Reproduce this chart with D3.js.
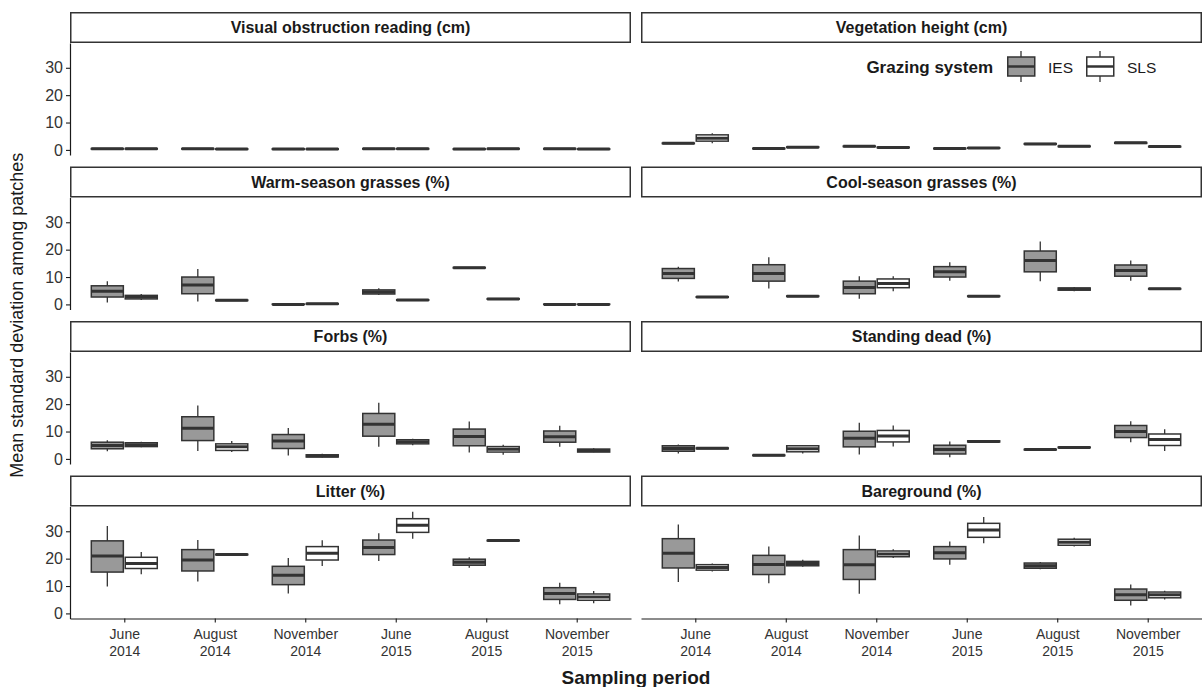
<!DOCTYPE html>
<html>
<head>
<meta charset="utf-8">
<script src="https://cdn.jsdelivr.net/npm/d3@7"></script>
<style>
  body { margin: 0; background: #fff; }
  svg { font-family: "Liberation Sans", Arial, sans-serif; }
</style>
</head>
<body>
<svg id="chart" width="1202" height="687"></svg>
<script>
const periods = ["June 2014", "August 2014", "November 2014", "June 2015", "August 2015", "November 2015"];
const groups = ["IES", "SLS"];
const yTicks = [0, 10, 20, 30];

// each box: [lower whisker, q1, median, q3, upper whisker]
const visualIES = [[0.2, 0.3, 0.4, 0.5, 0.6], [0.2, 0.3, 0.4, 0.5, 0.6], [0.1, 0.2, 0.3, 0.4, 0.5], [0.2, 0.3, 0.4, 0.5, 0.6], [0.1, 0.2, 0.3, 0.4, 0.5], [0.2, 0.3, 0.4, 0.5, 0.6]];
const visualSLS = [[0.2, 0.3, 0.4, 0.5, 0.6], [0.1, 0.2, 0.3, 0.4, 0.5], [0.1, 0.2, 0.3, 0.4, 0.5], [0.2, 0.3, 0.4, 0.5, 0.6], [0.2, 0.3, 0.4, 0.5, 0.6], [0.1, 0.2, 0.3, 0.4, 0.5]];
const heightIES = [[2.2, 2.3, 2.4, 2.5, 2.6], [0.3, 0.4, 0.5, 0.6, 0.7], [1.1, 1.2, 1.3, 1.4, 1.5], [0.3, 0.4, 0.5, 0.6, 0.7], [2.0, 2.1, 2.2, 2.3, 2.4], [2.3, 2.4, 2.6, 2.7, 2.9]];
const heightSLS = [[2.4, 3.2, 4.3, 5.5, 6.1], [0.8, 0.9, 1.0, 1.1, 1.2], [0.7, 0.8, 0.9, 1.0, 1.1], [0.5, 0.6, 0.7, 0.8, 0.9], [1.1, 1.2, 1.3, 1.4, 1.5], [1.0, 1.1, 1.2, 1.3, 1.4]];
const warmIES = [[0.7, 2.7, 4.8, 6.8, 8.5], [1.1, 3.9, 7.1, 10.0, 12.9], [0, 0, 0, 0.1, 0.1], [3.4, 3.8, 4.5, 5.3, 5.9], [13.2, 13.3, 13.4, 13.5, 13.6], [0, 0, 0, 0.1, 0.1]];
const warmSLS = [[1.6, 2.0, 2.7, 3.3, 3.8], [1.3, 1.4, 1.5, 1.6, 1.7], [0.1, 0.1, 0.2, 0.3, 0.3], [1.4, 1.5, 1.6, 1.7, 1.8], [1.8, 1.9, 2.0, 2.1, 2.2], [0, 0, 0, 0.1, 0.1]];
const coolIES = [[8.4, 9.5, 11.3, 13.1, 13.8], [5.8, 8.5, 11.3, 14.5, 17.2], [2.1, 3.9, 6.2, 8.5, 10.3], [8.6, 10.0, 11.9, 13.8, 15.4], [8.5, 11.9, 16.0, 19.5, 23.0], [8.6, 10.3, 12.4, 14.4, 16.0]];
const coolSLS = [[2.5, 2.6, 2.7, 2.8, 2.9], [2.8, 2.9, 3.0, 3.1, 3.2], [4.8, 6.1, 7.6, 9.3, 10.3], [2.8, 2.9, 3.0, 3.1, 3.2], [4.8, 5.2, 5.6, 6.0, 6.4], [5.5, 5.6, 5.7, 5.8, 5.9]];
const forbsIES = [[2.8, 3.7, 4.9, 6.1, 6.8], [2.9, 6.7, 11.2, 15.4, 19.5], [1.2, 3.8, 6.5, 8.9, 11.3], [4.4, 8.3, 12.7, 16.6, 20.5], [2.3, 4.8, 8.2, 10.9, 13.7], [4.4, 6.1, 8.1, 10.2, 12.1]];
const forbsSLS = [[4.3, 4.5, 5.2, 5.9, 6.3], [2.5, 3.1, 4.4, 5.5, 6.5], [0.5, 0.7, 1.1, 1.5, 1.9], [5.0, 5.5, 6.3, 7.0, 7.4], [1.5, 2.5, 3.5, 4.5, 5.2], [2.4, 2.5, 3.1, 3.6, 3.9]];
const deadIES = [[2.0, 2.8, 3.8, 4.8, 5.3], [1.1, 1.2, 1.3, 1.4, 1.5], [1.6, 4.4, 7.5, 10.1, 13.2], [0.6, 1.8, 3.4, 5.0, 6.4], [3.2, 3.3, 3.4, 3.5, 3.6], [6.1, 7.8, 10.0, 12.2, 13.8]];
const deadSLS = [[3.6, 3.7, 3.9, 4.0, 4.1], [2.0, 2.6, 3.7, 4.8, 5.1], [4.5, 6.2, 8.4, 10.4, 12.2], [6.1, 6.2, 6.4, 6.6, 6.7], [4.0, 4.1, 4.2, 4.3, 4.4], [2.9, 4.9, 7.1, 9.1, 10.8]];
const litterIES = [[9.8, 15.1, 21.0, 26.5, 31.9], [11.7, 15.5, 19.5, 23.3, 26.8], [7.3, 10.5, 13.9, 17.2, 20.2], [19.1, 21.5, 24.1, 26.8, 29.3], [16.7, 17.6, 18.7, 19.8, 20.5], [3.3, 5.1, 7.3, 9.4, 11.2]];
const litterSLS = [[14.3, 16.4, 18.2, 20.5, 22.4], [21.3, 21.4, 21.5, 21.6, 21.7], [17.3, 19.5, 22.0, 24.4, 26.7], [27.3, 29.6, 32.2, 34.6, 37.1], [26.4, 26.5, 26.6, 26.7, 26.8], [3.7, 4.8, 6.0, 7.1, 8.2]];
const bareIES = [[11.5, 16.6, 22.0, 27.3, 32.5], [11.0, 14.2, 17.9, 21.2, 24.4], [7.2, 12.4, 17.8, 23.3, 28.5], [17.8, 19.9, 22.2, 24.4, 26.3], [16.1, 16.5, 17.4, 18.4, 18.8], [2.9, 4.8, 6.8, 8.9, 10.6]];
const bareSLS = [[15.3, 15.8, 16.8, 17.8, 18.2], [17.0, 17.4, 18.2, 19.0, 19.6], [20.2, 20.7, 21.7, 22.8, 23.4], [25.6, 27.8, 30.5, 32.9, 35.2], [24.4, 24.9, 26.0, 27.1, 27.6], [5.1, 5.7, 6.8, 7.8, 8.3]];

const panels = [
  { title: "Visual obstruction reading (cm)", ies: visualIES, sls: visualSLS },
  { title: "Vegetation height (cm)", ies: heightIES, sls: heightSLS },
  { title: "Warm-season grasses (%)", ies: warmIES, sls: warmSLS },
  { title: "Cool-season grasses (%)", ies: coolIES, sls: coolSLS },
  { title: "Forbs (%)", ies: forbsIES, sls: forbsSLS },
  { title: "Standing dead (%)", ies: deadIES, sls: deadSLS },
  { title: "Litter (%)", ies: litterIES, sls: litterSLS },
  { title: "Bareground (%)", ies: bareIES, sls: bareSLS }
];

const fills = { IES: "#999999", SLS: "#ffffff" };
const ink = "#333333";

const svg = d3.select("#chart");

const leftX = 70, panelW = 561, colGap = 10;
const topY = 12, stripH = 31, panelH = 112, rowPitch = 154.5;

const x = d3.scalePoint().domain(periods).range([0, panelW]).padding(0.6);
const y = d3.scaleLinear().domain([-1.86, 39.05]).range([panelH, 0]);
const step = x.step();
const dodge = d3.scaleBand().domain(groups).range([-0.375 * step, 0.375 * step]);
const boxW = 0.354 * step;

panels.forEach((p, i) => {
  const col = i % 2, row = Math.floor(i / 2);
  const px = leftX + col * (panelW + colGap);
  const sy = topY + row * rowPitch;
  const py = sy + stripH;

  // strip
  const strip = svg.append("g").attr("transform", `translate(${px},${sy})`);
  strip.append("rect")
    .attr("x", 0.75).attr("y", 0.75)
    .attr("width", panelW - 1.5).attr("height", stripH - 1.5)
    .attr("fill", "#fff").attr("stroke", ink).attr("stroke-width", 1.5);
  strip.append("text")
    .attr("x", panelW / 2).attr("y", stripH / 2 + 5.5)
    .attr("text-anchor", "middle")
    .style("font-size", "16px").style("font-weight", "bold").attr("fill", "#1a1a1a")
    .text(p.title);

  const g = svg.append("g").attr("transform", `translate(${px},${py})`);

  if (col === 0) {
    const ya = g.append("g")
      .call(d3.axisLeft(y).tickValues(yTicks).tickSize(4).tickSizeOuter(0).tickPadding(3));
    ya.select(".domain").attr("stroke", "#1a1a1a").attr("stroke-width", 1.2);
    ya.selectAll(".tick line").attr("stroke", "#1a1a1a").attr("stroke-width", 1.1);
    ya.selectAll(".tick text").style("font-size", "16px").style("font-family", "Liberation Sans, Arial, sans-serif").attr("fill", "#333");
  }
  if (row === 3) {
    const xa = g.append("g").attr("transform", `translate(0,${panelH})`)
      .call(d3.axisBottom(x).tickSize(4).tickSizeOuter(0).tickPadding(7));
    xa.select(".domain").attr("stroke", "#1a1a1a").attr("stroke-width", 1.2);
    xa.selectAll(".tick line").attr("stroke", "#1a1a1a").attr("stroke-width", 1.1);
    xa.selectAll(".tick text").each(function(d) {
      const t = d3.select(this).text(null)
        .style("font-size", "14px").style("font-family", "Liberation Sans, Arial, sans-serif").attr("fill", "#333");
      const parts = d.split(" ");
      t.append("tspan").attr("x", 0).attr("dy", "0.71em").text(parts[0]);
      t.append("tspan").attr("x", 0).attr("dy", "1.15em").text(parts[1]);
    });
  }

  groups.forEach(gr => {
    const stats = gr === "IES" ? p.ies : p.sls;
    const boxes = g.selectAll(null)
      .data(stats.map((s, k) => ({ period: periods[k], s })))
      .enter().append("g")
      .attr("transform", d => `translate(${x(d.period) + dodge(gr) + dodge.bandwidth() / 2},0)`);

    boxes.append("line")
      .attr("x1", 0).attr("x2", 0)
      .attr("y1", d => y(d.s[0])).attr("y2", d => y(d.s[1]))
      .attr("stroke", ink).attr("stroke-width", 1.3);
    boxes.append("line")
      .attr("x1", 0).attr("x2", 0)
      .attr("y1", d => y(d.s[3])).attr("y2", d => y(d.s[4]))
      .attr("stroke", ink).attr("stroke-width", 1.3);
    boxes.append("rect")
      .attr("x", -boxW / 2).attr("width", boxW)
      .attr("y", d => y(d.s[3]))
      .attr("height", d => Math.max(0, y(d.s[1]) - y(d.s[3])))
      .attr("fill", fills[gr]).attr("stroke", ink).attr("stroke-width", 1.5);
    boxes.append("line")
      .attr("x1", -boxW / 2).attr("x2", boxW / 2)
      .attr("y1", d => y(d.s[2])).attr("y2", d => y(d.s[2]))
      .attr("stroke", ink).attr("stroke-width", 3);
  });
});

// legend in the vegetation height panel
const legend = svg.append("g");
legend.append("text")
  .attr("x", 993).attr("y", 73).attr("text-anchor", "end")
  .style("font-size", "17px").style("font-weight", "bold").attr("fill", "#1a1a1a")
  .text("Grazing system");
const keyX = d3.scaleOrdinal().domain(groups).range([1007, 1086]);
groups.forEach(gr => {
  const k = legend.append("g").attr("transform", `translate(${keyX(gr)},0)`);
  k.append("line").attr("x1", 14).attr("x2", 14).attr("y1", 51).attr("y2", 82).attr("stroke", ink).attr("stroke-width", 1.3);
  k.append("rect").attr("x", 0.75).attr("y", 57).attr("width", 27).attr("height", 19)
    .attr("fill", fills[gr]).attr("stroke", ink).attr("stroke-width", 1.5);
  k.append("line").attr("x1", 0.75).attr("x2", 27.75).attr("y1", 66.5).attr("y2", 66.5).attr("stroke", ink).attr("stroke-width", 2.5);
  k.append("text").attr("x", 41).attr("y", 72.5)
    .style("font-size", "15.5px").attr("fill", "#1a1a1a").text(gr);
});

// axis titles
svg.append("text")
  .attr("x", leftX + panelW + colGap / 2).attr("y", 684)
  .attr("text-anchor", "middle")
  .style("font-size", "19px").style("font-weight", "bold").attr("fill", "#1a1a1a")
  .text("Sampling period");
svg.append("text")
  .attr("transform", `translate(23,${topY + (4 * rowPitch - (rowPitch - stripH - panelH)) / 2}) rotate(-90)`)
  .attr("text-anchor", "middle")
  .style("font-size", "18px").attr("fill", "#1a1a1a")
  .text("Mean standard deviation among patches");
</script>
</body>
</html>
